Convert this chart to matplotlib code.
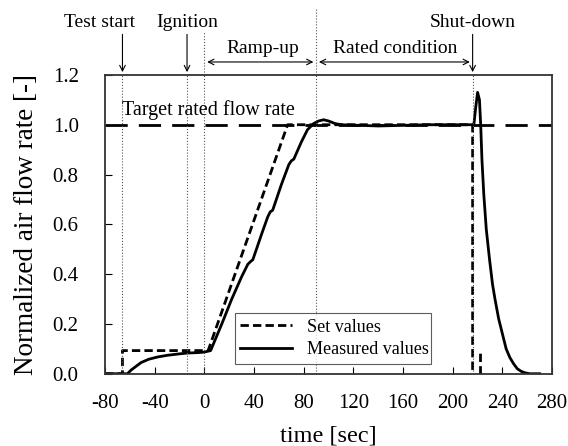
import numpy as np
import matplotlib
matplotlib.use("Agg")
import matplotlib.pyplot as plt

plt.rcParams['font.family'] = ['Liberation Serif', 'DejaVu Serif']
plt.rcParams['axes.unicode_minus'] = False

# set values (dashed)
set_t = [-80, -66, -66, 3, 67, 216, 216]
set_v = [0.0, 0.0, 0.093, 0.093, 1.0, 1.0, 0.0]
stub_t = [222, 222]
stub_v = [0.0, 0.1]

# measured values (solid)
meas_t = [-80, -62, -59, -55, -51, -45, -38, -30, -20, -14, -5, 0, 5, 14, 22, 30, 35, 37.5, 39,
          46, 51, 53, 55, 62, 68, 70, 72, 78, 83, 88, 92, 96, 100, 105, 110, 140, 180, 217,
          218.5, 220, 221.5, 222.5, 223.5, 225, 227, 229.6, 232, 234, 237, 240, 243, 246, 249,
          252, 255, 258, 262, 270]
meas_v = [0.0, 0.0, 0.015, 0.03, 0.045, 0.058, 0.067, 0.074, 0.08, 0.083, 0.085, 0.087, 0.093,
          0.2, 0.3, 0.39, 0.44, 0.452, 0.458, 0.56, 0.63, 0.65, 0.657, 0.76, 0.84, 0.855, 0.862,
          0.93, 0.98, 1.005, 1.015, 1.02, 1.015, 1.005, 1.0, 0.995, 1.0, 1.0,
          1.07, 1.13, 1.1, 1.0, 0.86, 0.72, 0.58, 0.46, 0.36, 0.3, 0.22, 0.16, 0.1, 0.065, 0.04,
          0.02, 0.01, 0.004, 0.0, 0.0]

target = 1.0
events = [-66, -14, 0, 90, 216]
xticks = np.arange(-80, 281, 40)
yticks = np.arange(0, 1.21, 0.2)

fig = plt.figure(figsize=(5.68, 4.46), dpi=100)
ax = fig.add_axes([0.185, 0.162, 0.787, 0.670])

ax.plot(set_t, set_v, color='black', ls=(0, (3, 1.5)), lw=2, label='Set values')
ax.plot(meas_t, meas_v, color='black', lw=2, label='Measured values')
ax.plot(stub_t, stub_v, color='black', ls=(0, (3, 1.5)), lw=2)
ax.axhline(target, color='black', ls=(0, (8, 4)), lw=2)
ax.text(-66, 1.04, 'Target rated flow rate', fontsize=14.5)

for e in events:
    ax.axvline(e, color='#555555', ls=':', lw=0.8)
# dotted guides above the frame
ax.plot([0, 0], [1.2, 1.374], color='#555555', ls=':', lw=0.8, clip_on=False)
ax.plot([90, 90], [1.2, 1.47], color='#555555', ls=':', lw=0.8, clip_on=False)

# event labels with arrows
arr = dict(arrowstyle='->', color='black', lw=0.8)
for e in [-66, -14, 216]:
    ax.annotate('', xy=(e, 1.2), xytext=(e, 1.374), annotation_clip=False, arrowprops=arr)
ax.text(-56, 1.394, 'Test start', ha='right', fontsize=14)
ax.text(-14, 1.394, 'Ignition', ha='center', fontsize=14)
ax.text(216, 1.394, 'Shut-down', ha='center', fontsize=14)

arr2 = dict(arrowstyle='<->', color='black', lw=0.8)
ax.annotate('', xy=(0, 1.252), xytext=(90, 1.252), annotation_clip=False, arrowprops=arr2)
ax.text(47, 1.289, 'Ramp-up', ha='center', fontsize=14)
ax.annotate('', xy=(90, 1.252), xytext=(216, 1.252), annotation_clip=False, arrowprops=arr2)
ax.text(154, 1.289, 'Rated condition', ha='center', fontsize=14)

ax.set_xlim(-80, 280)
ax.set_ylim(0, 1.2)
ax.set_xticks(xticks)
ax.set_yticks(yticks)
ax.set_yticklabels(['%.1f' % v for v in yticks])
ax.tick_params(direction='in', labelsize=15, length=5)
ax.tick_params(axis='y', pad=19)
ax.tick_params(axis='x', pad=14.5)
for s in ax.spines.values():
    s.set_linewidth(1.3)
    s.set_color('#333333')

ax.set_xlabel('time [sec]', fontsize=17.5, labelpad=9)
ax.set_ylabel('Normalized air flow rate [-]', fontsize=19.5, labelpad=10)

leg = ax.legend(loc='lower left', bbox_to_anchor=(0.29, 0.034, 0.44, 0.184), mode='expand',
                fontsize=13, frameon=True, fancybox=False, edgecolor='#333333',
                handlelength=2.9, borderaxespad=0, borderpad=0.3, labelspacing=0.3)
leg.get_frame().set_linewidth(0.8)

fig.savefig('out.png', dpi=100)
